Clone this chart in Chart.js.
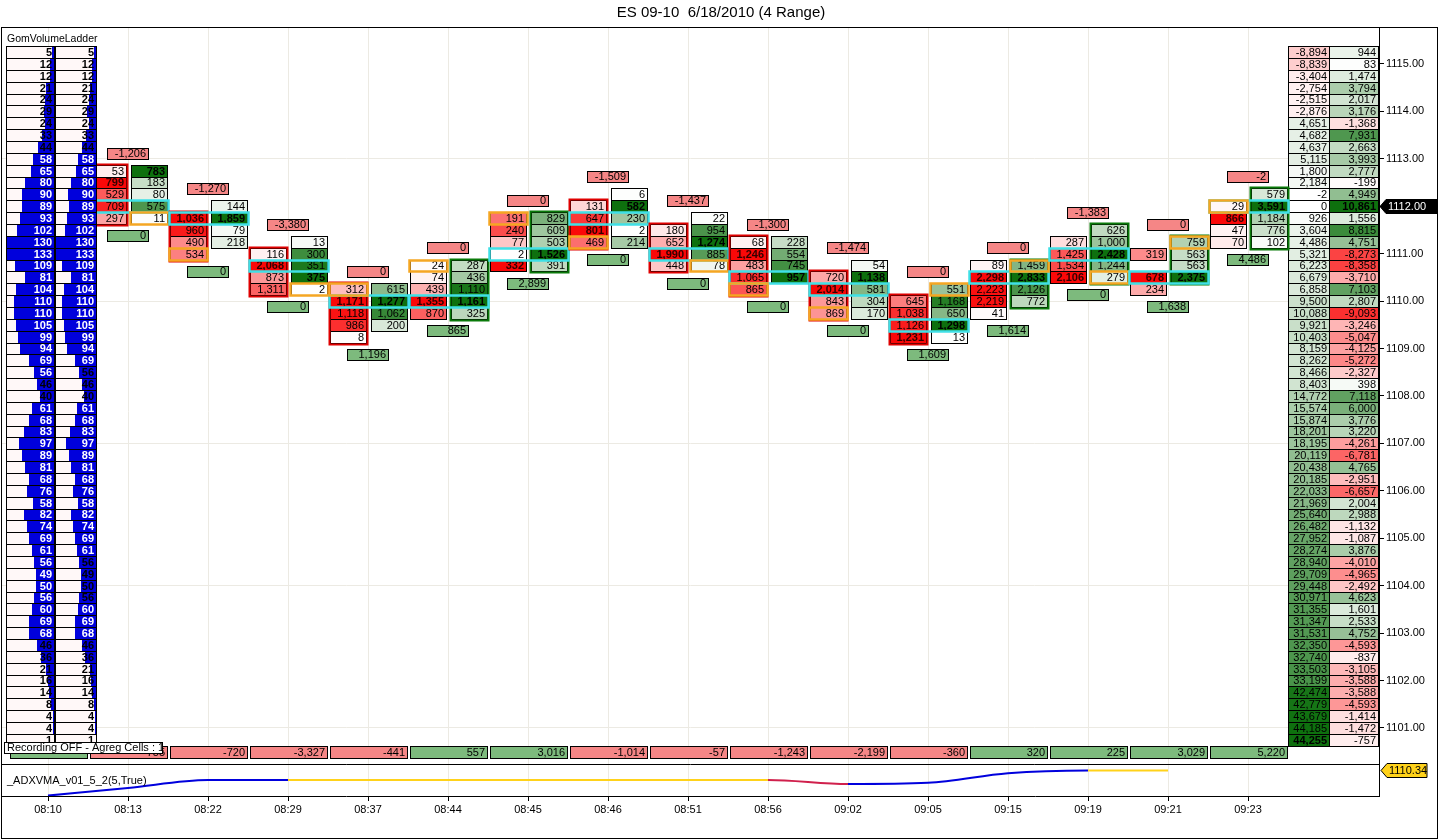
<!DOCTYPE html>
<html><head><meta charset="utf-8">
<script src="https://cdn.jsdelivr.net/npm/chart.js@4.4.1/dist/chart.umd.min.js"></script>
<style>html,body{margin:0;padding:0;background:#fff;overflow:hidden}#wrap{width:1440px;height:840px;position:relative}</style>
</head><body><div id="wrap"><canvas id="c" width="1440" height="840"></canvas></div>
<script>
const TITLE = 'ES 09-10  6/18/2010 (4 Range)';
const times = ['08:10','08:13','08:22','08:29','08:37','08:44','08:45','08:46','08:51','08:56','09:02','09:05','09:15','09:19','09:21','09:23'];
const priceTicks = [1101,1102,1103,1104,1105,1106,1107,1108,1109,1110,1111,1112,1113,1114,1115];
const ladderTopPrice = 1115.25;
const ladderVolume = [5,12,12,21,24,29,24,33,44,58,65,80,90,89,93,102,130,133,109,81,104,110,110,105,99,94,69,56,46,40,61,68,83,97,89,81,68,76,58,82,74,69,61,56,49,50,56,60,69,68,46,36,21,16,14,8,4,4,1];
const rightLadderA = [-8894,-8839,-3404,-2754,-2515,-2876,4651,4682,4637,5115,1800,2184,-2,0,926,3604,4486,5321,6223,6679,6858,9500,10088,9921,10403,8159,8262,8466,8403,14772,15574,15874,18201,18195,20119,20438,20185,22033,21969,25640,26482,27952,28274,28940,29709,29448,30971,31355,31347,31531,32350,32740,33503,33199,42474,42779,43679,44185,44255];
const rightLadderB = [944,83,1474,3794,2017,3176,-1368,7931,2663,3993,2777,-199,4949,10861,1556,8815,4751,-8273,-8358,-3710,7103,2807,-9093,-3246,-5047,-4125,-5272,-2327,398,7118,6000,3776,3220,-4261,-6781,4765,-2951,-6657,2004,2988,-1132,-1087,3876,-4010,-4965,-2492,4623,1601,2533,4752,-4593,-837,-3105,-3588,-3588,-4593,-1414,-1472,-757];
const barTop = [null,1112.75,1112.0,1111.25,1110.25,1110.75,1111.75,1112.25,1111.75,1111.25,1110.75,1110.25,1110.75,1111.5,1111.25,1112.25];
const bidVol = [null,
 [53,799,529,709,297],
 [null,1036,960,490,534],
 [null,116,2068,873,1311],
 [312,1171,1118,986,8],
 [24,74,439,1355,870],
 [191,240,77,2,332],
 [null,131,647,801,469],
 [null,180,652,1990,448],
 [68,1246,483,1065,865],
 [null,720,2014,843,869],
 [null,645,1038,1126,1231],
 [89,2298,2223,2219,41],
 [null,287,1425,1534,2106],
 [null,319,null,678,234],
 [null,29,866,47,70]];
const askVol = [null,
 [783,183,80,575,11],
 [144,1859,79,218,null],
 [13,300,351,375,2],
 [615,1277,1062,200,null],
 [287,436,1110,1161,325],
 [829,609,503,1526,391],
 [6,582,230,2,214],
 [22,954,1274,885,78],
 [228,554,745,957,null],
 [54,1138,581,304,170],
 [551,1168,650,1298,13],
 [1459,2833,2126,772,null],
 [626,1000,2428,1244,279],
 [759,563,563,2375,null],
 [579,3591,1184,776,102]];
const closePx = [null,1111.75,1111.0,1110.25,1110.25,1110.75,1111.75,1111.25,1110.75,1110.25,1109.75,1110.25,1110.75,1110.5,1111.25,1112.0];
const closeSide = [null,'a','b','a','b','b','b','b','a','b','b','a','a','a','a','b'];
const minDelta = [null,-1206,-1270,-3380,0,0,0,-1509,-1437,-1300,-1474,0,0,-1383,0,-2];
const maxDelta = [null,0,0,0,1196,865,2899,0,0,0,0,1609,1614,0,1638,4486];
const barDelta = [null,-755,-720,-3327,-441,557,3016,-1014,-57,-1243,-2199,-360,320,225,3029,5220];
const adxValues = [1109.71,1109.90,1110.10,1110.10,1110.10,1110.10,1110.10,1110.10,1110.10,1110.10,1110.00,1110.03,1110.27,1110.34,1110.34,null];
const adxState = ['B','B','B','B','Y','Y','Y','Y','Y','Y','R','B','B','B','Y',null];
const lastPrice = 1112.00;
const adxLast = 1110.34;

const FONT = "'Liberation Sans', Arial, sans-serif";
const STATE_COLOR = {B:'#0000dd', Y:'#ffd21a', R:'#d0204c'};
const WHITE=[255,255,255], RED=[250,8,8], GREEN=[14,112,14];
function mix(a,b,t){t=Math.max(0,Math.min(1,t));return 'rgb('+[0,1,2].map(i=>Math.round(a[i]+(b[i]-a[i])*t)).join(',')+')';}
function signColor(v,m){ if(!v) return '#ffffff'; return v<0?mix(WHITE,RED,Math.abs(v)/m):mix(WHITE,GREEN,v/m); }
const fmt = v => v.toLocaleString('en-US');
function rowBounds(ys,p){return [Math.round(ys.getPixelForValue(p+0.125)),Math.round(ys.getPixelForValue(p-0.125))];}
function cell(ctx,x,y,w,h,fill,stroke){ ctx.fillStyle=fill; ctx.fillRect(x,y,w,h); ctx.strokeStyle=stroke||'#000'; ctx.lineWidth=1; ctx.strokeRect(x+0.5,y+0.5,w,h); }
function txt(ctx,s,xr,ym,bold,color,size){ ctx.font=(bold?'bold ':'')+(size||11)+'px '+FONT; ctx.fillStyle=color||'#000'; ctx.textAlign='right'; ctx.textBaseline='middle'; ctx.fillText(s,xr,ym+0.5); }
function outline(ctx,x,y,w,h,color,lw){ ctx.strokeStyle=color; ctx.lineWidth=lw; ctx.strokeRect(x+0.5,y+0.5,w,h); }

const footprint = {
 id:'footprint',
 afterDatasetsDraw(chart){
  const {ctx, chartArea:ca} = chart; const xs=chart.scales.x, ys=chart.scales.y;
  ctx.save();
  // right ladder
  const mA=Math.max(...rightLadderA.map(Math.abs)), mB=Math.max(...rightLadderB.map(Math.abs));
  rightLadderA.forEach((v,r)=>{
    const p=ladderTopPrice-0.25*r; const [t,b]=rowBounds(ys,p); const h=b-t;
    const x1=Math.round(ca.right)-91, x2=Math.round(ca.right)-50;
    cell(ctx,x1,t,41,h,signColor(v,mA)); txt(ctx,fmt(v),x2-2,(t+b)/2,Math.abs(v)===mA);
    const w=rightLadderB[r];
    cell(ctx,x2,t,49,h,signColor(w,mB)); txt(ctx,fmt(w),x2+47,(t+b)/2,Math.abs(w)===mB);
  });
  // footprint bars
  for(let i=1;i<times.length;i++){
    if(barTop[i]==null) continue;
    const xc=Math.round(xs.getPixelForValue(i));
    const bids=bidVol[i], asks=askVol[i], n=Math.max(bids.length,asks.length);
    const mb=Math.max(...bids.filter(v=>v!=null)), ma=Math.max(...asks.filter(v=>v!=null));
    const bx=xc-38, ax=xc+3, cw=36;
    let poc=0, pv=-1, sb=0, sa=0, bIdx=[], aIdx=[];
    for(let r=0;r<n;r++){
      const tv=(bids[r]||0)+(asks[r]||0); if(tv>pv){pv=tv;poc=r;}
      sb+=bids[r]||0; sa+=asks[r]||0;
      const [t,b]=rowBounds(ys,barTop[i]-0.25*r);
      if(bids[r]!=null){bIdx.push(r); cell(ctx,bx,t,cw,b-t,mix(WHITE,RED,bids[r]/mb)); txt(ctx,fmt(bids[r]),bx+cw-2,(t+b)/2,bids[r]===mb,bids[r]===mb?'#300':'#000');}
      if(asks[r]!=null){aIdx.push(r); cell(ctx,ax,t,cw,b-t,mix(WHITE,GREEN,asks[r]/ma)); txt(ctx,fmt(asks[r]),ax+cw-2,(t+b)/2,asks[r]===ma,'#000');}
    }
    const delta=sa-sb;
    const idx = delta<0?bIdx:aIdx;
    if(idx.length){
      const t=rowBounds(ys,barTop[i]-0.25*idx[0])[0], b=rowBounds(ys,barTop[i]-0.25*idx[idx.length-1])[1];
      outline(ctx,(delta<0?bx:ax)-1,t-1,cw+2,b-t+2,delta<0?'#e00000':'#0a7a0a',2);
    }
    { const [t,b]=rowBounds(ys,barTop[i]-0.25*poc); outline(ctx,bx-1,t,ax+cw-bx+2,b-t,'#3fe0e6',2.5); }
    { const [t,b]=rowBounds(ys,closePx[i]); outline(ctx,(closeSide[i]==='a'?ax:bx)-1,t,cw+2,b-t,'#f5a623',2.5); }
    { const yc=ys.getPixelForValue(barTop[i]+0.36); const t=Math.round(yc-6);
      cell(ctx,xc-21,t,41,11,'#f58686'); txt(ctx,fmt(minDelta[i]),xc+18,t+5.5,false); }
    { const yc=ys.getPixelForValue(barTop[i]-0.25*(n-1)-0.38); const t=Math.round(yc-6);
      cell(ctx,xc-21,t,41,11,'#7dba7d'); txt(ctx,fmt(maxDelta[i]),xc+18,t+5.5,false); }
  }
  // delta row
  for(let i=0;i<times.length;i++){
    const xc=Math.round(xs.getPixelForValue(i)); const t=Math.round(ys.bottom)-18;
    const v=barDelta[i];
    cell(ctx,xc-38,t,77,12,(v==null||v>=0)?'#7dba7d':'#f58686');
    if(v!=null) txt(ctx,fmt(v),xc+37,t+6,false);
  }
  // left ladder (drawn over the first bars)
  const lmax=Math.max(...ladderVolume);
  const cols=[[Math.round(ca.left)+4,48],[Math.round(ca.left)+53,41]];
  ladderVolume.forEach((v,r)=>{
    const p=ladderTopPrice-0.25*r; const [t,b]=rowBounds(ys,p); const h=b-t;
    cols.forEach(([x0,w])=>{
      ctx.fillStyle='#fff8f8'; ctx.fillRect(x0,t,w,h);
      const bw=Math.round(w*v/lmax); ctx.fillStyle='#0000dc'; ctx.fillRect(x0+w-bw,t,bw,h);
      ctx.strokeStyle='#000'; ctx.lineWidth=1; ctx.strokeRect(x0+0.5,t+0.5,w,h);
      txt(ctx,String(v),x0+w-2,(t+b)/2,true,bw>17?'#fff':'#000');
    });
  });
  ctx.restore();
 },
 afterDraw(chart){
  const {ctx, chartArea:ca} = chart; const ys=chart.scales.y, y2=chart.scales.y2;
  ctx.save();
  ctx.strokeStyle='#000'; ctx.lineWidth=1;
  ctx.beginPath(); ctx.moveTo(ca.left,Math.round(y2.top)+0.5); ctx.lineTo(ca.right,Math.round(y2.top)+0.5); ctx.stroke();
  ctx.font='10.5px '+FONT; ctx.fillStyle='#000'; ctx.textAlign='left'; ctx.textBaseline='middle';
  ctx.fillText('GomVolumeLadder',ca.left+5,ca.top+12);
  { const t=Math.round(ys.bottom)-22; ctx.fillStyle='#fff'; ctx.fillRect(ca.left+2,t,158,11); ctx.strokeStyle='#000'; ctx.strokeRect(ca.left+2.5,t+0.5,158,11);
    ctx.fillStyle='#000'; ctx.font='11px '+FONT; ctx.fillText('Recording OFF - Agreg Cells : 1',ca.left+5,t+6); }
  ctx.font='11px '+FONT; ctx.fillStyle='#000'; ctx.fillText('_ADXVMA_v01_5_2(5,True)',ca.left+5,y2.top+17);
  function marker(yc,label,fill,color,x0,w){
    const y=Math.round(yc); ctx.beginPath(); ctx.moveTo(x0,y+0.5); ctx.lineTo(x0+6,y-6.5); ctx.lineTo(x0+6+w,y-6.5); ctx.lineTo(x0+6+w,y+7.5); ctx.lineTo(x0+6,y+7.5); ctx.closePath();
    ctx.fillStyle=fill; ctx.fill(); ctx.strokeStyle='#000'; ctx.lineWidth=1; ctx.stroke();
    ctx.fillStyle=color; ctx.font='11px '+FONT; ctx.textAlign='left'; ctx.textBaseline='middle'; ctx.fillText(label,x0+8,y+1);
  }
  marker(ys.getPixelForValue(lastPrice),lastPrice.toFixed(2),'#000','#fff',ca.right+1,51);
  marker(y2.getPixelForValue(adxLast),adxLast.toFixed(2),'#ffd21a','#000',ca.right+2,40);
  ctx.strokeStyle='#000'; ctx.lineWidth=1; ctx.strokeRect(1.5,Math.round(ca.top)+0.5,1436,chart.height-Math.round(ca.top)-2);
  ctx.restore();
 }
};

const gridCol='#eceae3';
new Chart(document.getElementById('c'),{
  type:'line',
  data:{datasets:[{
    data: adxValues.map((v,i)=>({x:i,y:v})).filter(p=>p.y!=null),
    xAxisID:'x', yAxisID:'y2', borderWidth:2, pointRadius:0, fill:false,
    cubicInterpolationMode:'monotone', borderColor:'#0000dd',
    segment:{borderColor: c => STATE_COLOR[adxState[c.p1DataIndex]] || '#0000dd'}
  }]},
  options:{
    responsive:false, animation:false, devicePixelRatio:1,
    layout:{padding:{left:2,right:0,top:0,bottom:0}},
    plugins:{legend:{display:false}, tooltip:{enabled:false},
      title:{display:true,text:TITLE,color:'#000',font:{family:FONT,size:15,weight:'normal'},padding:{top:4,bottom:5}}},
    scales:{
      x:{type:'linear',position:'bottom',min:-0.575,max:16.6375,
        afterBuildTicks:s=>{s.ticks=times.map((t,i)=>({value:i}));},
        ticks:{autoSkip:false,maxRotation:0,color:'#000',font:{family:FONT,size:11},padding:2,callback:(v)=>times[Math.round(v)]},
        grid:{color:gridCol,tickColor:'#000',tickLength:5},
        border:{color:'#000'},
        afterFit:s=>{s.height=44;}},
      y:{type:'linear',position:'right',stack:'panels',stackWeight:737,min:1100.24,max:1115.78,
        afterBuildTicks:s=>{s.ticks=priceTicks.map(v=>({value:v}));},
        ticks:{color:'#000',font:{family:FONT,size:11},padding:2,callback:v=>Number(v).toFixed(2)},
        grid:{color:c=>(c.tick&&c.tick.value%3===0)?gridCol:'rgba(0,0,0,0)',tickColor:'#000',tickLength:5},
        border:{color:'#000'},
        afterFit:s=>{s.width=61;}},
      y2:{type:'linear',position:'right',stack:'panels',stackWeight:32,min:1109.70,max:1110.50,
        ticks:{display:false},grid:{display:false},border:{color:'#000'},
        afterFit:s=>{s.width=61;}}
    }
  },
  plugins:[footprint]
});
</script></body></html>
